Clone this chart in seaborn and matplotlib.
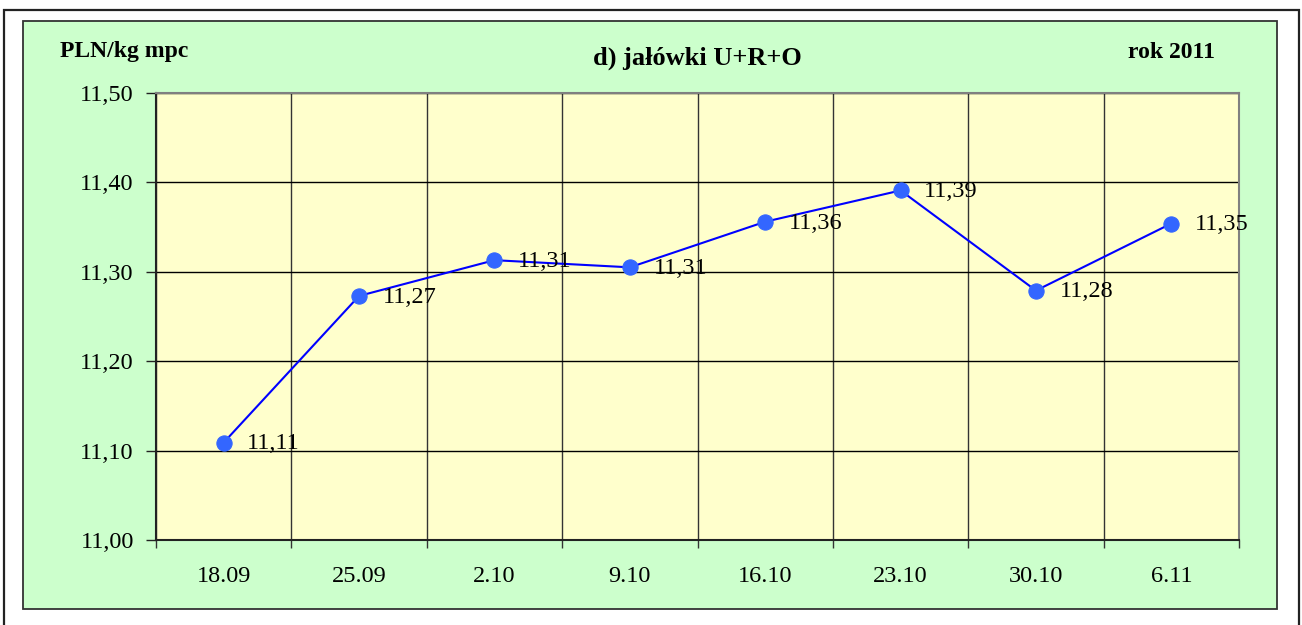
import matplotlib
matplotlib.use("Agg")
import matplotlib.pyplot as plt
from matplotlib.patches import Rectangle
from matplotlib.ticker import FixedLocator, FuncFormatter
import seaborn as sns
import pandas as pd

# data
dates = ["18.09", "25.09", "2.10", "9.10", "16.10", "23.10", "30.10", "6.11"]
prices = [11.109, 11.273, 11.313, 11.305, 11.356, 11.391, 11.279, 11.354]
price_labels = ["11,11", "11,27", "11,31", "11,31", "11,36", "11,39", "11,28", "11,35"]
y_ticks = [11.0, 11.1, 11.2, 11.3, 11.4, 11.5]

df = pd.DataFrame({"pos": range(len(dates)), "price": prices})

sns.set_style("white")
plt.rcParams["font.family"] = ["Liberation Serif", "DejaVu Serif"]
plt.rcParams["text.color"] = "black"
plt.rcParams["xtick.color"] = "black"
plt.rcParams["ytick.color"] = "black"

fig = plt.figure(figsize=(13.02, 6.25), dpi=100)
fig.patch.set_facecolor("white")

# outer frame and green panel
fig.patches.append(Rectangle((4 / 1302, -0.1), 1295 / 1302, 1.1 - 10 / 625,
                             transform=fig.transFigure, fill=False,
                             edgecolor="#222222", linewidth=1.6, zorder=-2))
fig.patches.append(Rectangle((23 / 1302, 1 - 609 / 625), 1254 / 1302, 588 / 625,
                             transform=fig.transFigure, facecolor="#CCFFCC",
                             edgecolor="#333333", linewidth=1.3, zorder=-1))

ax = fig.add_axes([156 / 1302, 1 - 540 / 625, 1083 / 1302, 447 / 625])
ax.set_facecolor("#FFFFCC")

sns.lineplot(data=df, x="pos", y="price", ax=ax, color="#0000FF", linewidth=1.5,
             marker="o", markersize=11, markerfacecolor="#3366FF",
             markeredgecolor="#3366FF", zorder=3)

for x, y, lab in zip(df["pos"], df["price"], price_labels):
    ax.annotate(lab, (x, y), xytext=(17, -1), textcoords="offset points",
                ha="left", va="center", fontsize=17.5, color="black", zorder=4)

ax.set_xlim(-0.5, len(dates) - 0.5)
ax.set_ylim(11.0, 11.5)

ax.set_xticks(list(range(len(dates))))
ax.set_xticklabels(dates)
ax.xaxis.set_minor_locator(FixedLocator([i - 0.5 for i in range(len(dates) + 1)]))
ax.set_yticks(y_ticks)
ax.yaxis.set_major_formatter(FuncFormatter(lambda v, p: f"{v:.2f}".replace(".", ",")))

ax.tick_params(axis="x", which="major", length=0, pad=19, labelsize=17.5)
ax.tick_params(axis="x", which="minor", length=6, width=1, color="#333333",
               direction="out", bottom=True)
ax.tick_params(axis="y", which="major", length=7, width=1, color="#222222",
               direction="out", left=True, pad=9, labelsize=17.5)

ax.grid(False)
ax.grid(True, axis="y", which="major", color="black", linewidth=1)
ax.grid(True, axis="x", which="minor", color="#333333", linewidth=1)
ax.set_axisbelow(True)
for s in ax.spines.values():
    s.set_visible(True)
    s.set_color("#808080")
    s.set_linewidth(1.5)
ax.spines["bottom"].set_color("#222222")
ax.spines["left"].set_color("#222222")

ax.set_xlabel("")
ax.set_ylabel("")

fig.text(60 / 1302, 1 - 52 / 625, "PLN/kg mpc", fontsize=17, fontweight="bold",
         ha="left", va="center")
fig.text(697 / 1302, 1 - 58 / 625, "d) jałówki U+R+O", fontsize=19,
         fontweight="bold", ha="center", va="center")
fig.text(1215 / 1302, 1 - 52 / 625, "rok 2011", fontsize=17, fontweight="bold",
         ha="right", va="center")

fig.savefig("out.png", dpi=100, facecolor="white")
